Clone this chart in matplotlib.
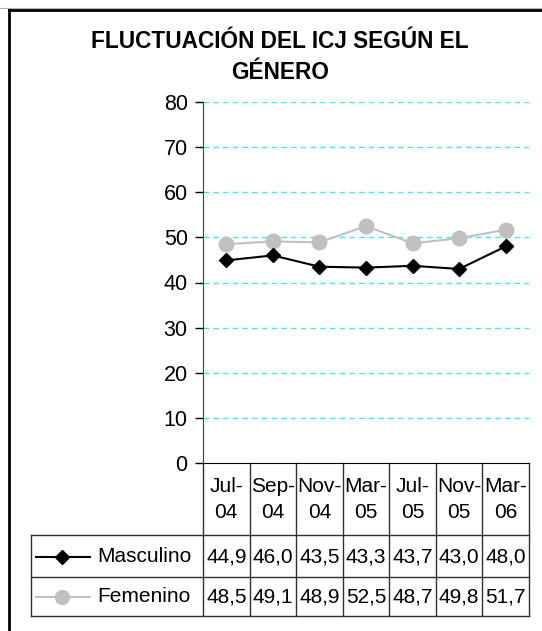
import matplotlib.pyplot as plt
import matplotlib.transforms as mtransforms
from matplotlib.lines import Line2D

plt.rcParams['font.family'] = ['Liberation Sans', 'DejaVu Sans']

# datos del gráfico
fechas = ["Jul-04", "Sep-04", "Nov-04", "Mar-05", "Jul-05", "Nov-05", "Mar-06"]
masculino = [44.9, 46.0, 43.5, 43.3, 43.7, 43.0, 48.0]
femenino = [48.5, 49.1, 48.9, 52.5, 48.7, 49.8, 51.7]
titulo = "FLUCTUACIÓN DEL ICJ SEGÚN EL\nGÉNERO"

W, H = 542, 631
fig = plt.figure(figsize=(W / 100, H / 100), dpi=100)

def fx(px):
    return px / W

def fy(py):
    return 1 - py / H

# marco del gráfico (recortado a la derecha y abajo)
fig.add_artist(Line2D([0, 1], [fy(8), fy(8)], color="#b0b0b0", lw=0.8))
fig.add_artist(Line2D([fx(9), 1.01], [fy(10), fy(10)], color="black", lw=2))
fig.add_artist(Line2D([fx(9), fx(9)], [fy(10), -0.01], color="black", lw=2))

x0, x1, y0, y1 = 203, 529, 463, 102
ax = fig.add_axes([fx(x0), fy(y0), fx(x1) - fx(x0), fy(y1) - fy(y0)])
n = len(fechas)
xs = list(range(n))
ax.set_xlim(-0.5, n - 0.5)
ax.set_ylim(0, 80)
ax.set_yticks(range(0, 81, 10))
ax.set_xticks([])
ax.tick_params(axis="y", labelsize=15.5, length=6, width=1, pad=5, direction="out")
for s in ["top", "right"]:
    ax.spines[s].set_visible(False)
ax.spines["left"].set_color("#404040")
ax.spines["bottom"].set_color("black")
for v in range(10, 81, 10):
    ax.axhline(v, color="#33f0f0", lw=1, ls=(0, (4, 3)), zorder=1)

ax.plot(xs, femenino, color="#c0c0c0", lw=1.5, marker="o", ms=10.5, zorder=3, clip_on=False)
ax.plot(xs, masculino, color="black", lw=1.5, marker="D", ms=7, zorder=4, clip_on=False)

fig.text(fx(280), fy(57), titulo, ha="center", va="center", fontsize=16.3,
         fontweight="bold", linespacing=1.4)

# tabla de datos bajo el eje
trans = mtransforms.blended_transform_factory(ax.transData, fig.transFigure)
lc = "#303030"
row_tops = [463, 535, 577, 616]
for xb in [i - 0.5 for i in range(n + 1)]:
    ax.add_artist(Line2D([xb, xb], [fy(463), fy(616)], color=lc, lw=1,
                         transform=trans, clip_on=False))
for yb in row_tops[1:]:
    fig.add_artist(Line2D([fx(31), fx(x1)], [fy(yb), fy(yb)], color=lc, lw=1))
fig.add_artist(Line2D([fx(31), fx(31)], [fy(535), fy(616)], color=lc, lw=1))

for i, f in enumerate(fechas):
    a, b = f.split("-")
    ax.text(i, fy(487), a + "-", transform=trans, ha="center", va="center", fontsize=15)
    ax.text(i, fy(513), b, transform=trans, ha="center", va="center", fontsize=15)
    ax.text(i, fy(557), f"{masculino[i]:.1f}".replace(".", ","), transform=trans,
            ha="center", va="center", fontsize=15)
    ax.text(i, fy(597), f"{femenino[i]:.1f}".replace(".", ","), transform=trans,
            ha="center", va="center", fontsize=15)

# claves de la leyenda
fig.add_artist(Line2D([fx(36), fx(90)], [fy(557), fy(557)], color="black", lw=1.5))
fig.add_artist(Line2D([fx(62)], [fy(557)], color="black", marker="D", ms=7))
fig.add_artist(Line2D([fx(36), fx(90)], [fy(597), fy(597)], color="#c0c0c0", lw=1.5))
fig.add_artist(Line2D([fx(62)], [fy(597)], color="#c0c0c0", marker="o", ms=10))
fig.text(fx(97), fy(557), "Masculino", ha="left", va="center", fontsize=15)
fig.text(fx(97), fy(597), "Femenino", ha="left", va="center", fontsize=15)

fig.savefig("out.png", dpi=100)
